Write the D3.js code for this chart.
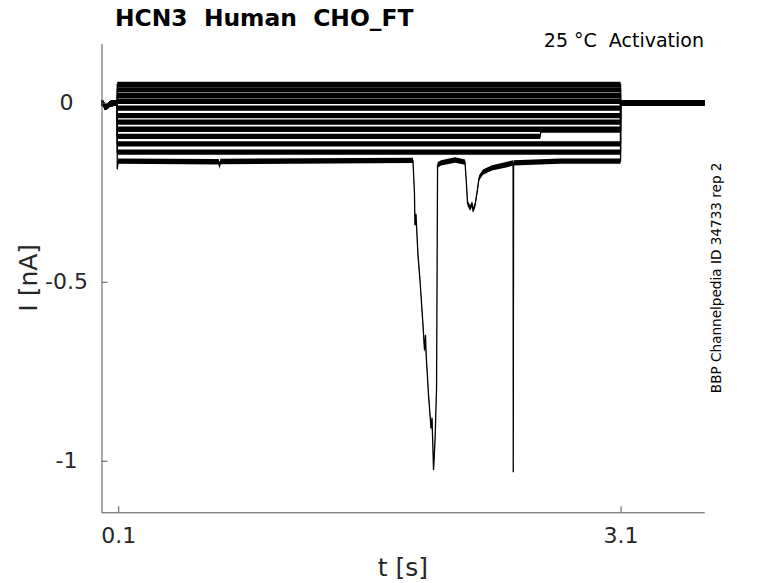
<!DOCTYPE html>
<html>
<head>
<meta charset="utf-8">
<script src="https://cdn.jsdelivr.net/npm/d3@7"></script>
<style>
  body { margin: 0; background: #fff; }
  text { font-family: "DejaVu Sans", sans-serif; }
</style>
</head>
<body>
<div id="chart"></div>
<script>
// Patch-clamp activation traces, HCN3 (CHO_FT cells)
// Values: time in s, current in nA.

const xTicks = [0.1, 3.1];
const yTicks = [-1, -0.5, 0];
const xDomain = [0, 3.6];
const yDomain = [-1.144, 0.166];

// holding current before/after the voltage step
const baselineBefore = [[0, 0], [0.012, -0.003], [0.02, -0.012], [0.035, -0.01], [0.05, -0.003], [0.094, 0]];
const baselineAfter = [[3.1, 0], [3.6, 0]];
const stepOn = 0.094;
const stepOff = 3.1;

// steady current of the flat sweeps during the step
const stepLevels = [0.051, 0.036, 0.020, 0.004, -0.015, -0.036, -0.054, -0.074, -0.115, -0.138];

// sweep that jumps up late in the step
const shiftedSweep = [[0.094, -0.094], [2.62, -0.094], [2.625, -0.076], [3.1, -0.076]];

// lowest sweep, with the large inward events
const eventSweep = [
  [0.094, -0.185], [0.1, -0.163], [0.7, -0.165], [0.705, -0.178], [0.71, -0.164],
  [1.86, -0.161], [1.869, -0.252], [1.872, -0.342], [1.878, -0.311], [1.89, -0.425],
  [1.902, -0.495], [1.92, -0.621], [1.929, -0.691], [1.935, -0.649], [1.938, -0.696],
  [1.953, -0.816], [1.968, -0.909], [1.974, -0.881], [1.983, -1.026], [1.992, -0.942],
  [2.001, -0.797], [2.004, -0.495], [2.007, -0.174], [2.028, -0.168], [2.111, -0.16],
  [2.171, -0.166], [2.18, -0.23], [2.186, -0.28], [2.201, -0.294], [2.213, -0.283],
  [2.219, -0.3], [2.231, -0.286], [2.243, -0.25], [2.255, -0.21], [2.278, -0.194],
  [2.332, -0.182], [2.41, -0.174], [2.458, -0.168], [2.459, -1.032], [2.461, -0.168],
  [2.738, -0.163], [3.097, -0.163]
];

// half-width of the recording noise band, nA
const noiseAmp = 0.0075;

const W = 778, H = 583;
const plot = { left: 101.5, right: 704.3, top: 43.3, bottom: 512.3 };

const svg = d3.select("#chart").append("svg")
  .attr("width", W)
  .attr("height", H)
  .style("background", "#fff");

const x = d3.scaleLinear().domain(xDomain).range([plot.left, plot.right]);
const y = d3.scaleLinear().domain(yDomain).range([plot.bottom, plot.top]);

// build full sweeps: baseline -> step -> baseline
function fullSweep(stepPoints) {
  return baselineBefore
    .concat([[stepOn, 0]], stepPoints, [[stepOff, stepPoints[stepPoints.length - 1][1]]])
    .concat(baselineAfter);
}

const sweeps = stepLevels.map(v => fullSweep([[stepOn, v], [stepOff, v]]));
sweeps.push(fullSweep(shiftedSweep));
sweeps.push(fullSweep(eventSweep));

const area = d3.area()
  .x(d => x(d[0]))
  .y0(d => y(d[1] - noiseAmp))
  .y1(d => y(d[1] + noiseAmp));

const line = d3.line()
  .x(d => x(d[0]))
  .y(d => y(d[1]));

const traces = svg.append("g");

sweeps.forEach(s => {
  traces.append("path")
    .datum(s)
    .attr("fill", "#000")
    .attr("d", area);
  traces.append("path")
    .datum(s)
    .attr("fill", "none")
    .attr("stroke", "#000")
    .attr("stroke-width", 1.3)
    .attr("d", line);
});

// Axes (MATLAB style: ticks inside, box off)
const axisColor = "#555";

const gx = svg.append("g")
  .attr("transform", `translate(0,${plot.bottom})`)
  .call(d3.axisBottom(x).tickValues(xTicks).tickSize(-6).tickSizeOuter(0).tickPadding(15)
    .tickFormat(d3.format(".1f")));

const gy = svg.append("g")
  .attr("transform", `translate(${plot.left},0)`)
  .call(d3.axisLeft(y).tickValues(yTicks).tickSize(-6).tickSizeOuter(0)
    .tickFormat(d => d === 0 ? "0" : String(d)));

[gx, gy].forEach(g => {
  g.select(".domain").attr("stroke", axisColor);
  g.selectAll(".tick line").attr("stroke", axisColor);
  g.selectAll(".tick text")
    .attr("fill", "#262626")
    .style("font-size", "22px")
    .style("font-family", "DejaVu Sans, sans-serif");
});

gy.selectAll(".tick text")
  .attr("x", -35)
  .attr("text-anchor", "middle");

// Labels
svg.append("text")
  .attr("x", (plot.left + plot.right) / 2)
  .attr("y", 576)
  .attr("text-anchor", "middle")
  .attr("fill", "#262626")
  .style("font-size", "25px")
  .text("t [s]");

svg.append("text")
  .attr("transform", `translate(37,${(plot.top + plot.bottom) / 2}) rotate(-90)`)
  .attr("text-anchor", "middle")
  .attr("fill", "#262626")
  .style("font-size", "25px")
  .text("I [nA]");

svg.append("text")
  .attr("x", 115)
  .attr("y", 26)
  .attr("fill", "#000")
  .style("font-size", "23.4px")
  .style("font-weight", "bold")
  .style("white-space", "pre")
  .text("HCN3  Human  CHO_FT");

svg.append("text")
  .attr("x", 704)
  .attr("y", 47)
  .attr("text-anchor", "end")
  .attr("fill", "#000")
  .style("font-size", "19px")
  .style("white-space", "pre")
  .text("25 °C  Activation");

svg.append("text")
  .attr("transform", `translate(721,${(plot.top + plot.bottom) / 2}) rotate(-90)`)
  .attr("text-anchor", "middle")
  .attr("fill", "#000")
  .style("font-size", "13.6px")
  .text("BBP Channelpedia ID 34733 rep 2");
</script>
</body>
</html>
